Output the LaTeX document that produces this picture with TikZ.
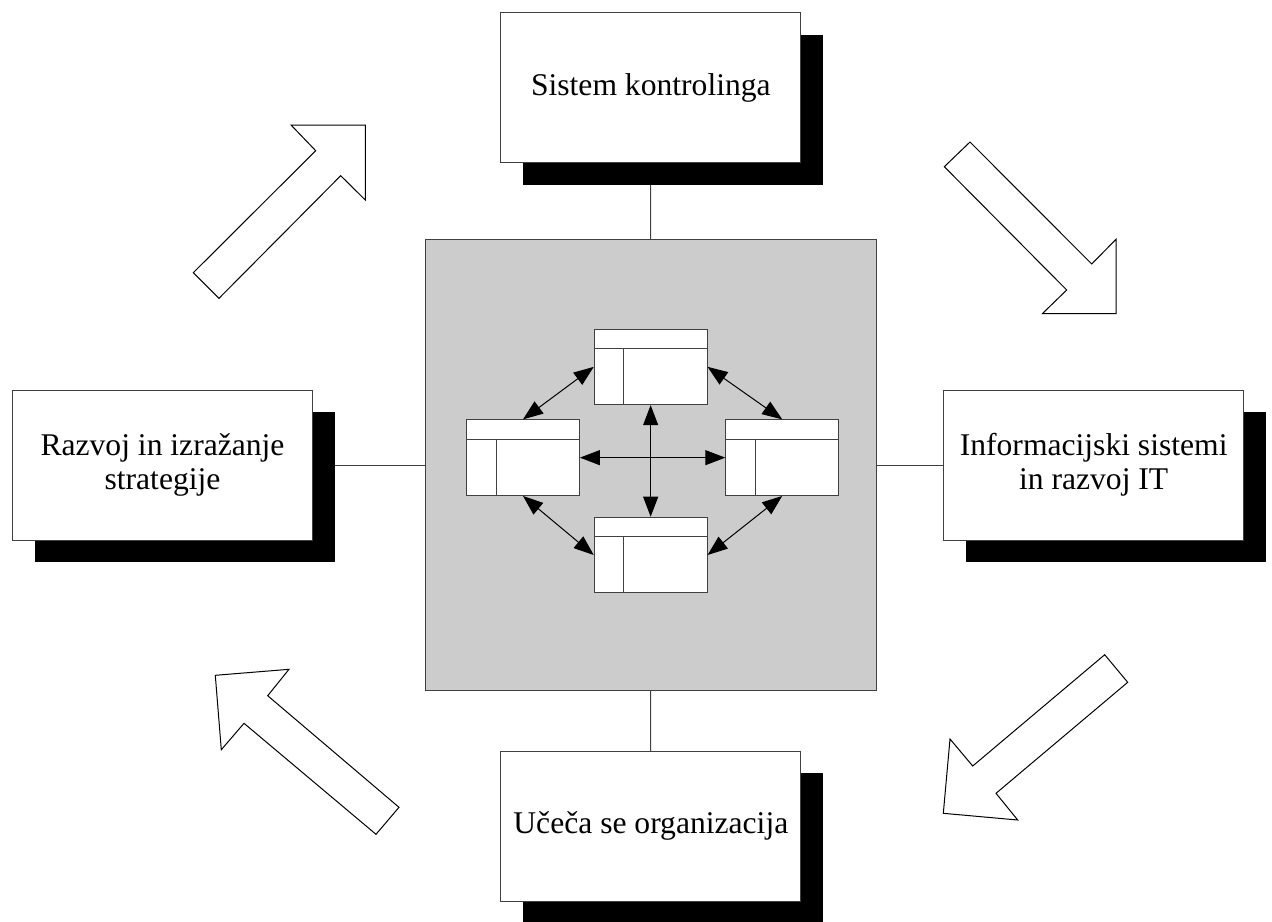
\documentclass[tikz,border=0pt]{standalone}
\usepackage{fontspec}
\setmainfont{Liberation Serif}
\usetikzlibrary{arrows.meta,shadows,backgrounds}

\begin{document}
\begin{tikzpicture}[x=0.5pt,y=-0.5pt,
  >={Triangle[length=10pt,width=7.5pt]},
  box/.style={draw=black!75, fill=white, line width=0.5pt, minimum width=150pt,
    minimum height=75pt, inner sep=0pt, align=center,
    font=\fontsize{15.8}{17.2}\selectfont,
    drop shadow={shadow xshift=11pt, shadow yshift=-11pt, fill=black, opacity=1}},
  jedro/.style={draw=black!75, fill=black!20, line width=0.5pt,
    minimum width=225.4pt, minimum height=225.7pt, inner sep=0pt},
  tbl/.style={draw=black!75, fill=white, line width=0.5pt,
    minimum width=56.4pt, minimum height=37.8pt, inner sep=0pt},
  vez/.style={draw=black!75, line width=0.5pt},
  puscica/.style={draw=black, fill=white, line width=0.5pt}]

  \path[use as bounding box] (0,0) rectangle (1272,921);

  % jedro in stirje sklopi
  \node[jedro] (jedro) at (650.65,465) {};
  \node[box] (kontr) at (650.85,87.85) {Sistem kontrolinga};
  \node[box] (strat) at (162.5,465) {Razvoj in izražanje\\strategije};
  \node[box] (info) at (1093.65,465) {Informacijski sistemi\\in razvoj IT};
  \node[box] (ucec) at (650.85,826) {Učeča se organizacija};

  \begin{scope}[on background layer]
    \fill[white] (0,0) rectangle (1272,921);
    \draw[vez] (jedro.north) -- (kontr.center);
    \draw[vez] (jedro.west) -- (strat.center);
    \draw[vez] (jedro.east) -- (info.center);
    \draw[vez] (jedro.south) -- (ucec.center);
  \end{scope}

  % tabele v jedru
  \node[tbl] (tg) at (650.65,366.85) {};
  \node[tbl] (tl) at (523,457.65) {};
  \node[tbl] (td) at (782.2,457.65) {};
  \node[tbl] (ts) at (650.65,555) {};
  \foreach \t in {tg,tl,td,ts} {
    \draw[vez] ([yshift=-10pt]\t.north west) -- ([yshift=-10pt]\t.north east);
    \draw[vez] ([xshift=15pt,yshift=-10pt]\t.north west) -- ([xshift=15pt]\t.south west);
  }

  \draw[vez,draw=black,<->] (tl.east) -- (td.west);
  \draw[vez,draw=black,<->] (tg.south) -- (ts.north);
  \draw[vez,draw=black,<->] (tg.west) -- (tl.north);
  \draw[vez,draw=black,<->] (tg.east) -- (td.north);
  \draw[vez,draw=black,<->] (tl.south) -- (ts.west);
  \draw[vez,draw=black,<->] (td.south) -- (ts.east);

  % velike puscice
  \draw[puscica] (365.3,125) -- (291,125) -- (315.7,150.7) -- (193.3,272.7)
    -- (219,298.3) -- (340.7,175.7) -- (365.3,200) -- cycle;
  \draw[puscica] (970,142) -- (944.3,166.7) -- (1066.7,290) -- (1042.3,313.7)
    -- (1116,313.7) -- (1116,239.3) -- (1091.7,264) -- cycle;
  \draw[puscica] (1104.7,654.7) -- (1127.7,682.3) -- (996,793.3) -- (1017.7,820)
    -- (943.3,813.3) -- (950,739) -- (972.7,766) -- cycle;
  \draw[puscica] (289,669.3) -- (215.3,675.3) -- (221.3,749.7) -- (244,723.3)
    -- (376,834.3) -- (399,807.3) -- (267.7,695.7) -- cycle;
\end{tikzpicture}
\end{document}
